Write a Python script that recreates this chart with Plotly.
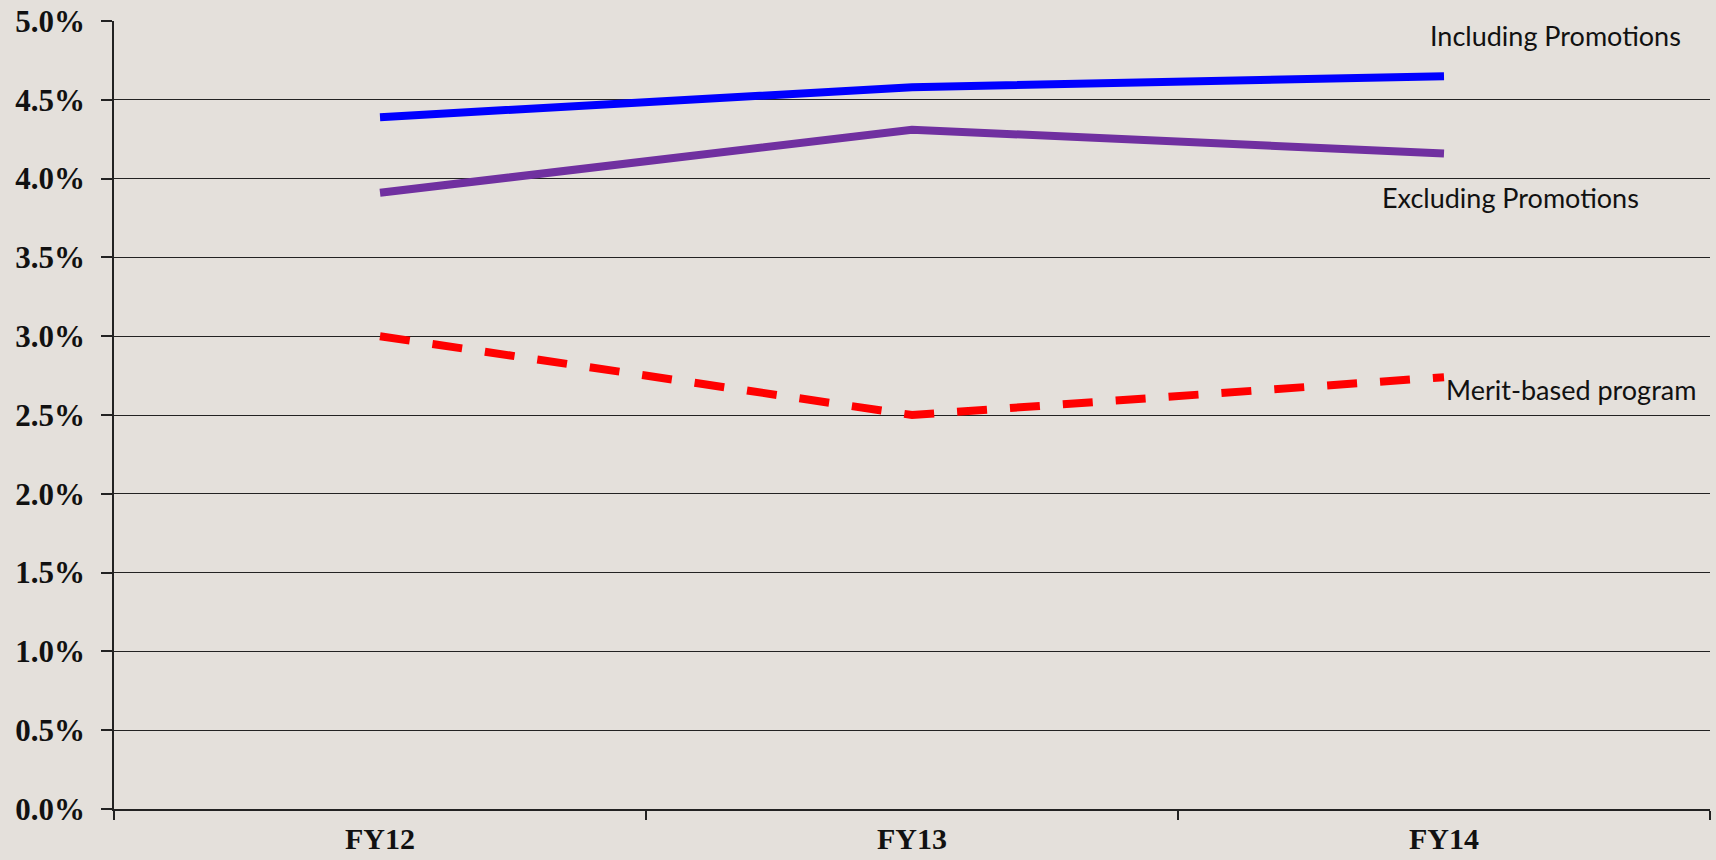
import plotly.graph_objects as go

categories = ["FY12", "FY13", "FY14"]
including = [0.0439, 0.0458, 0.0465]
excluding = [0.0391, 0.0431, 0.0416]
merit = [0.0300, 0.0250, 0.0274]
ytick_vals = [0, 0.005, 0.01, 0.015, 0.02, 0.025, 0.03, 0.035, 0.04, 0.045, 0.05]
ytick_text = ["0.0%", "0.5%", "1.0%", "1.5%", "2.0%", "2.5%", "3.0%", "3.5%", "4.0%", "4.5%", "5.0%"]

bg = "#E4E0DB"

fig = go.Figure()
fig.add_trace(go.Scatter(x=categories, y=including, mode="lines",
                         line=dict(color="#0000FF", width=8), name="Including Promotions"))
fig.add_trace(go.Scatter(x=categories, y=excluding, mode="lines",
                         line=dict(color="#7030A0", width=8), name="Excluding Promotions"))
fig.add_trace(go.Scatter(x=categories, y=merit, mode="lines",
                         line=dict(color="#FF0000", width=8, dash="30px,23px"), name="Merit-based program"))

labels = [
    ("Including Promotions", 1.97, 0.0491),
    ("Excluding Promotions", 1.88, 0.0388),
    ("Merit-based program", 2.0, 0.0266),
]
for txt, xv, yv in labels:
    fig.add_annotation(x=xv, y=yv, xref="x", yref="y", text=txt, showarrow=False,
                       xanchor="left", yanchor="middle",
                       font=dict(family="Lato, Open Sans, sans-serif", size=27, color="#111111"))

fig.update_layout(
    width=1716, height=860,
    paper_bgcolor=bg, plot_bgcolor=bg,
    margin=dict(l=114, r=6, t=21, b=51, autoexpand=False),
    showlegend=False,
)
fig.update_xaxes(
    type="category", range=[-0.5, 2.5], automargin=False,
    showgrid=False, showline=True, linecolor="#222222", linewidth=1.5,
    ticks="outside", tickson="boundaries", ticklen=9, tickcolor="#222222", tickwidth=1.5,
    tickfont=dict(family="Liberation Serif, Times New Roman, serif", size=30, color="#111111"),
    ticklabelstandoff=2,
    tickprefix="<b>", ticksuffix="</b>",
)
fig.update_yaxes(
    range=[0, 0.05], tickvals=ytick_vals, automargin=False,
    ticktext=["<b>" + t + "</b>" for t in ytick_text],
    showgrid=True, gridcolor="#222222", gridwidth=1.3,
    showline=True, linecolor="#222222", linewidth=1.5,
    ticks="outside", ticklen=11, tickcolor="#222222", tickwidth=1.5,
    tickfont=dict(family="Liberation Serif, Times New Roman, serif", size=31, color="#111111"),
    ticklabelstandoff=10, zeroline=False,
)

fig.write_html("out.html", config={"displayModeBar": False},
               post_script="document.body.style.margin='0';document.body.style.overflow='hidden';")
